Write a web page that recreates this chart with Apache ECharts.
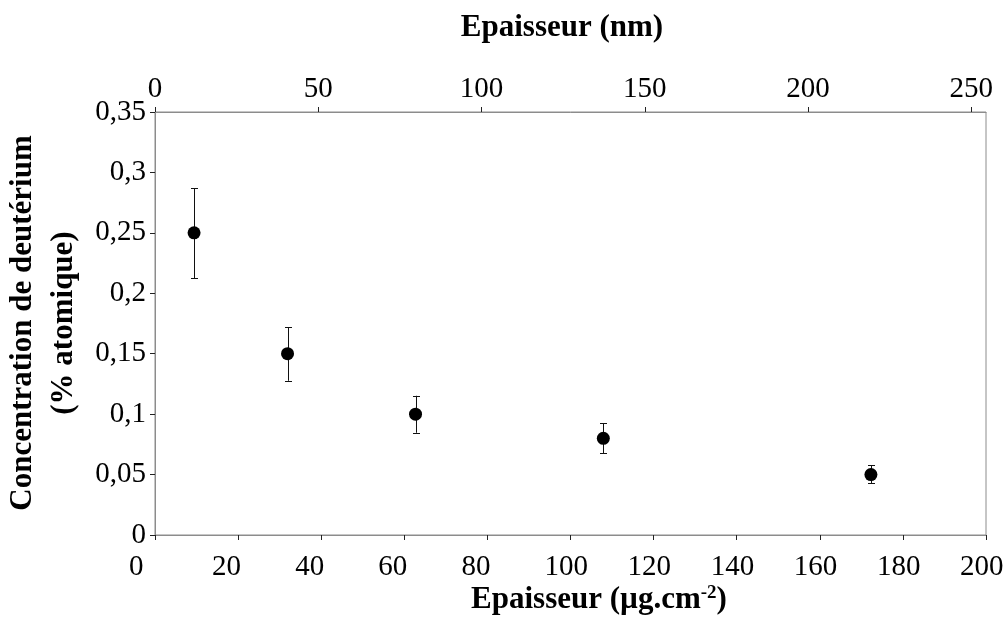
<!DOCTYPE html>
<html>
<head>
<meta charset="utf-8">
<script src="https://cdn.jsdelivr.net/npm/echarts@6/dist/echarts.min.js"></script>
<style>
html,body{margin:0;padding:0;background:#fff;}
#c{width:1008px;height:624px;}
</style>
</head>
<body>
<div id="c"></div>
<script>
// Data
const massThickness = [9.4, 31.9, 62.7, 107.9, 172.3];          // µg.cm-2
const concentration = [0.25, 0.15, 0.10, 0.08, 0.05];           // % atomique
const errLow  = [0.2125, 0.1276, 0.0846, 0.0678, 0.0428];
const errHigh = [0.2870, 0.1720, 0.1152, 0.0924, 0.0576];
const bottomTicks = [0, 20, 40, 60, 80, 100, 120, 140, 160, 180, 200];
const topTicks = [0, 50, 100, 150, 200, 250];                   // nm
const yTicks = [0, 0.05, 0.1, 0.15, 0.2, 0.25, 0.3, 0.35];
const nmMax = 254.5;                                              // nm equivalent of 200 µg.cm-2

const FONT = 'Liberation Serif';
const axisGrey = '#8c8c8c';

const points = massThickness.map((x, i) => [x, concentration[i]]);
const bars = massThickness.map((x, i) => [x, errLow[i], errHigh[i]]);

const chart = echarts.init(document.getElementById('c'));
chart.setOption({
  animation: false,
  backgroundColor: '#fff',
  grid: { left: 155, right: 22, top: 112, bottom: 89, show: true, borderColor: axisGrey, borderWidth: 1 },
  xAxis: [
    {
      type: 'value', position: 'bottom', min: 0, max: 200, interval: 20,
      axisLine: { show: true, lineStyle: { color: axisGrey, width: 1 } },
      axisTick: { show: true, length: 5, lineStyle: { color: '#222' } },
      splitLine: { show: false },
      axisLabel: { margin: 18, fontFamily: FONT, fontSize: 29, color: '#000',
        align: 'left', padding: [0, 0, 0, -26],
        customValues: bottomTicks, formatter: v => String(v) }
    },
    {
      type: 'value', position: 'top', min: 0, max: nmMax,
      axisLine: { show: true, lineStyle: { color: axisGrey, width: 1 } },
      axisTick: { show: true, length: 5, customValues: topTicks, lineStyle: { color: '#222' } },
      splitLine: { show: false },
      axisLabel: { margin: 8, fontFamily: FONT, fontSize: 29, color: '#000',
        customValues: topTicks, formatter: v => String(v) }
    }
  ],
  yAxis: {
    type: 'value', min: 0, max: 0.35, interval: 0.05,
    axisLine: { show: true, lineStyle: { color: axisGrey, width: 1 } },
    axisTick: { show: true, length: 5, lineStyle: { color: '#222' } },
    splitLine: { show: false },
    axisLabel: { margin: 9, fontFamily: FONT, fontSize: 29, color: '#000',
      customValues: yTicks,
      formatter: v => String(+(+v).toFixed(2)).replace('.', ',') }
  },
  series: [
    {
      type: 'custom', xAxisIndex: 0, yAxisIndex: 0, z: 2,
      data: bars,
      renderItem: function (params, api) {
        const lo = api.coord([api.value(0), api.value(1)]);
        const hi = api.coord([api.value(0), api.value(2)]);
        const x = Math.round(lo[0]) + 0.5;
        const hw = 3.5;
        const st = { stroke: '#111', lineWidth: 1 };
        return {
          type: 'group',
          children: [
            { type: 'line', shape: { x1: x, y1: hi[1], x2: x, y2: lo[1] }, style: st },
            { type: 'line', shape: { x1: x - hw, y1: Math.round(hi[1]) + 0.5, x2: x + hw, y2: Math.round(hi[1]) + 0.5 }, style: st },
            { type: 'line', shape: { x1: x - hw, y1: Math.round(lo[1]) + 0.5, x2: x + hw, y2: Math.round(lo[1]) + 0.5 }, style: st }
          ]
        };
      }
    },
    {
      type: 'scatter', xAxisIndex: 0, yAxisIndex: 0, z: 3,
      symbol: 'circle', symbolSize: 13,
      itemStyle: { color: '#000', opacity: 1 },
      emphasis: { disabled: true },
      data: points
    }
  ],
  graphic: [
    {
      type: 'text', x: 562, y: 28,
      style: { text: 'Epaisseur (nm)', font: 'bold 31px "Liberation Serif"', fill: '#000',
        align: 'center', verticalAlign: 'middle' }
    },
    {
      type: 'text', x: 599, y: 600,
      style: {
        text: '{b|Epaisseur (µg.cm}{s|-2}{b|)}',
        align: 'center', verticalAlign: 'middle',
        rich: {
          b: { font: 'bold 31px "Liberation Serif"', fill: '#000', color: '#000' },
          s: { font: 'bold 19px "Liberation Serif"', fill: '#000', color: '#000', padding: [0, 0, 14, 0] }
        }
      }
    },
    {
      type: 'text', x: 43, y: 323, rotation: Math.PI / 2,
      style: {
        text: 'Concentration de deutérium\n(% atomique)',
        font: 'bold 31px "Liberation Serif"', fill: '#000',
        align: 'center', verticalAlign: 'middle', lineHeight: 41
      }
    }
  ]
});
</script>
</body>
</html>
